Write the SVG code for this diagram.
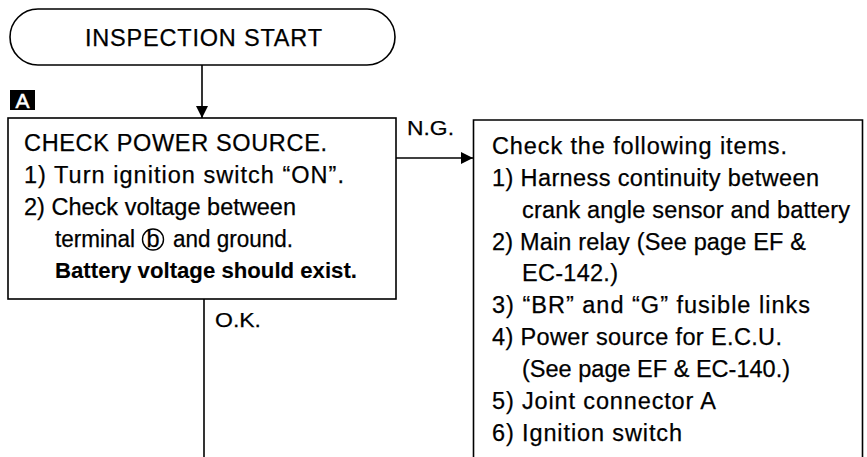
<svg xmlns="http://www.w3.org/2000/svg" width="867" height="457" viewBox="0 0 867 457">
<defs>
<style>
.box{fill:#fff;stroke:#000;stroke-width:1.6}
.t{font-family:"Liberation Sans",Arial,sans-serif;font-size:23.5px;fill:#000;stroke:#000;stroke-width:0.25}
.b{font-weight:bold;font-size:22.5px;stroke-width:0.1}
.lbl{font-family:"Liberation Sans",Arial,sans-serif;font-size:21px;fill:#000;stroke:#000;stroke-width:0.25}
.ln{fill:none;stroke:#000;stroke-width:1.6}
</style>
<marker id="arr" viewBox="0 0 12 12" refX="12" refY="6" markerWidth="12" markerHeight="12" markerUnits="userSpaceOnUse" orient="auto">
<path d="M0,0 L12,6 L0,12 z" fill="#000"/>
</marker>
</defs>
<rect width="867" height="457" fill="#fff"/>
<g id="start">
<rect class="box" x="10" y="9" width="385" height="56" rx="28" ry="28"/>
<text class="t" x="85" y="45.5" textLength="237" lengthAdjust="spacing">INSPECTION START</text>
</g>
<g id="labelA">
<rect x="10" y="90" width="25" height="20" fill="#000"/>
<text x="22.5" y="107.5" text-anchor="middle" font-family="Liberation Sans,Arial,sans-serif" font-size="21" fill="#fff" stroke="#fff" stroke-width="0.5">A</text>
</g>
<g id="check">
<rect class="box" x="8" y="118" width="388" height="181"/>
<text class="t" x="24" y="151" textLength="303" lengthAdjust="spacing">CHECK POWER SOURCE.</text>
<text class="t" x="24" y="183" textLength="320" lengthAdjust="spacing">1) Turn ignition switch “ON”.</text>
<text class="t" x="24" y="215" textLength="272" lengthAdjust="spacing">2) Check voltage between</text>
<text class="t" x="55" y="247" textLength="80" lengthAdjust="spacingAndGlyphs">terminal</text>
<circle cx="153" cy="239.5" r="10.5" fill="none" stroke="#000" stroke-width="1.4"/>
<text class="t" x="153" y="247" text-anchor="middle" font-size="22">b</text>
<text class="t" x="173" y="247" textLength="120" lengthAdjust="spacingAndGlyphs">and ground.</text>
<text class="t b" x="55" y="278" textLength="302" lengthAdjust="spacingAndGlyphs">Battery voltage should exist.</text>
</g>
<g id="items">
<path class="ln" d="M473.5,460 V120 H862.5 V460"/>
<text class="t" x="492" y="153.5" textLength="295" lengthAdjust="spacing">Check the following items.</text>
<text class="t" x="492" y="185.5" textLength="327" lengthAdjust="spacing">1) Harness continuity between</text>
<text class="t" x="522" y="217.5" textLength="328" lengthAdjust="spacing">crank angle sensor and battery</text>
<text class="t" x="492" y="249.5" textLength="314" lengthAdjust="spacing">2) Main relay (See page EF &amp;</text>
<text class="t" x="522" y="281" textLength="96" lengthAdjust="spacing">EC-142.)</text>
<text class="t" x="492" y="313" textLength="318" lengthAdjust="spacing">3) “BR” and “G” fusible links</text>
<text class="t" x="492" y="345" textLength="290" lengthAdjust="spacing">4) Power source for E.C.U.</text>
<text class="t" x="522" y="377" textLength="268" lengthAdjust="spacing">(See page EF &amp; EC-140.)</text>
<text class="t" x="492" y="408.5" textLength="224" lengthAdjust="spacing">5) Joint connector A</text>
<text class="t" x="492" y="440.5" textLength="190" lengthAdjust="spacing">6) Ignition switch</text>
</g>
<g id="connectors">
<line class="ln" x1="202" y1="65" x2="202" y2="118" marker-end="url(#arr)"/>
<line class="ln" x1="396" y1="158" x2="473" y2="158" marker-end="url(#arr)"/>
<line class="ln" x1="204" y1="299" x2="204" y2="460"/>
<text class="lbl" x="407" y="135" textLength="47" lengthAdjust="spacingAndGlyphs">N.G.</text>
<text class="lbl" x="215" y="327" textLength="46" lengthAdjust="spacingAndGlyphs">O.K.</text>
</g>
</svg>
